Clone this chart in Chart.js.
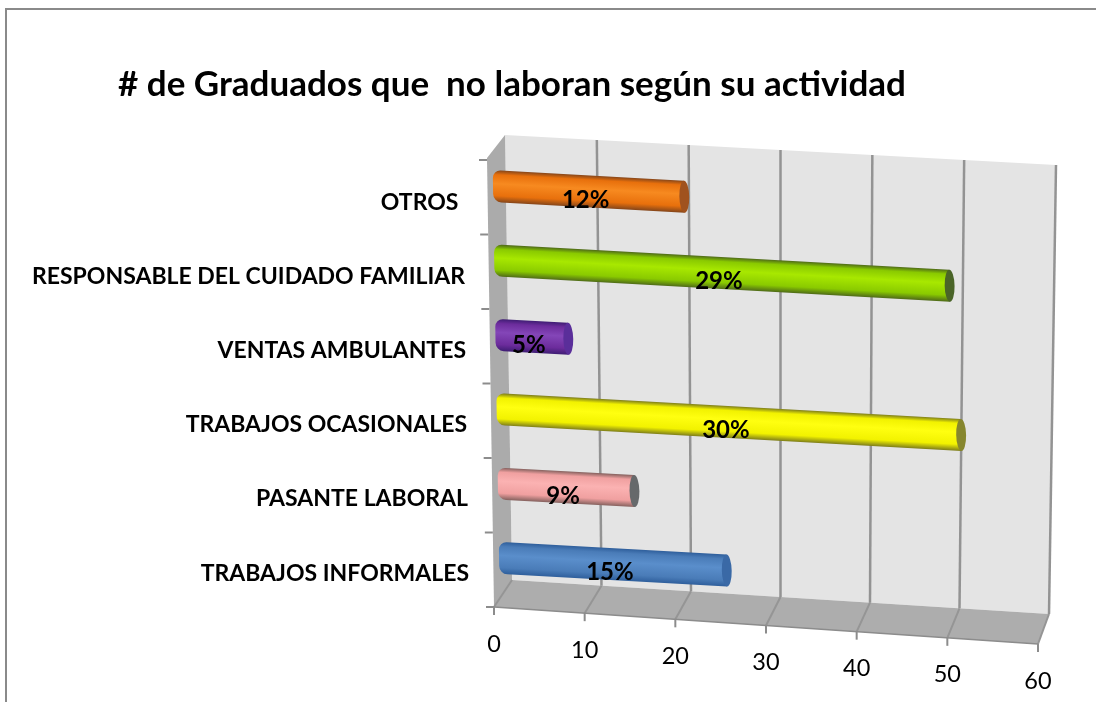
<!DOCTYPE html>
<html>
<head>
<meta charset="utf-8">
<title># de Graduados que no laboran según su actividad</title>
<script src="https://cdn.jsdelivr.net/npm/chart.js@4"></script>
<style>
    body { margin: 0; background: #fff; }
    #frame { position: absolute; left: 5px; top: 8px; right: 0; bottom: 0; border-top: 2px solid #8a8a8a; border-left: 2px solid #8a8a8a; }
    #chart { position: absolute; left: 0; top: 0; filter: blur(0.4px); }
</style>
</head>
<body>
<div id="frame"></div>
<canvas id="chart" width="1096" height="702"></canvas>
<script>
// Data, bottom category first
const categories = ['TRABAJOS INFORMALES', 'PASANTE LABORAL', 'TRABAJOS OCASIONALES', 'VENTAS AMBULANTES', 'RESPONSABLE DEL CUIDADO FAMILIAR', 'OTROS '];
const graduados = [25, 15, 51, 8, 50, 21];
const percentLabels = ['15%', '9%', '30%', '5%', '29%', '12%'];
const xTicks = [0, 10, 20, 30, 40, 50, 60];

// edge, body, highlight, end cap
const barColors = [
    ['#2f5f9c', '#4a7cb8', '#5a8ecb', '#3a69a6'],
    ['#86625f', '#f0a0a0', '#fbb2b2', '#66696b'],
    ['#7f7f1a', '#f2f200', '#ffff10', '#86862e'],
    ['#3f1d74', '#6c2c9c', '#8446b8', '#5a2e9a'],
    ['#4f6b18', '#8aca00', '#a8e800', '#4a6428'],
    ['#86461a', '#e8700c', '#f78a20', '#a0521e']
];

const FONT = 'Lato, sans-serif';

// Corners of the tilted box, in page pixels
const wall = { tl: [505, 135], tr: [1056, 165], br: [1049, 614], bl: [512, 580] };
const floorFront = { l: [494, 607], r: [1038, 644] };
const sideFront = { t: [487, 160], b: [494, 607] };
const sideTop = [487, 158];
// Shear that lays the flat bars on the tilted plane
const barTilt = [0.99, 0.055, 0.0162, 0.996, -9.74, -13.4];

function lerp(p, q, t) {
    return [p[0] + (q[0] - p[0]) * t, p[1] + (q[1] - p[1]) * t];
}

function tiltBar(x, y) {
    return [
        barTilt[0] * x + barTilt[2] * y + barTilt[4],
        barTilt[1] * x + barTilt[3] * y + barTilt[5]
    ];
}

function fillShape(ctx, pts, color) {
    ctx.beginPath();
    pts.forEach((p, i) => i ? ctx.lineTo(p[0], p[1]) : ctx.moveTo(p[0], p[1]));
    ctx.closePath();
    ctx.fillStyle = color;
    ctx.fill();
}

function strokeLine(ctx, p, q, color, width) {
    ctx.beginPath();
    ctx.moveTo(p[0], p[1]);
    ctx.lineTo(q[0], q[1]);
    ctx.strokeStyle = color;
    ctx.lineWidth = width;
    ctx.stroke();
}

function barGradient(context) {
    const chart = context.chart;
    const cols = barColors[context.dataIndex];
    if (!chart.chartArea) return cols[1];
    const y = chart.scales.y.getPixelForValue(context.dataIndex);
    const half = 16;
    const g = chart.ctx.createLinearGradient(0, y - half, 0, y + half);
    g.addColorStop(0, cols[0]);
    g.addColorStop(0.14, cols[1]);
    g.addColorStop(0.42, cols[2]);
    g.addColorStop(0.8, cols[1]);
    g.addColorStop(1, cols[0]);
    return g;
}

// Walls, grid and tick marks go under the bars, the bars get sheared
const box3d = {
    id: 'box3d',
    beforeDatasetsDraw(chart) {
        const ctx = chart.ctx;
        const x = chart.scales.x;
        const area = chart.chartArea;

        fillShape(ctx, [wall.tl, wall.tr, wall.br, wall.bl], '#e4e4e4');
        fillShape(ctx, [wall.tl, sideTop, floorFront.l, wall.bl], '#ababab');
        fillShape(ctx, [wall.bl, wall.br, floorFront.r, floorFront.l], '#adadad');

        xTicks.forEach(v => {
            const u = (x.getPixelForValue(v) - area.left) / area.width;
            const top = lerp(wall.tl, wall.tr, u);
            const bottom = lerp(wall.bl, wall.br, u);
            const front = lerp(floorFront.l, floorFront.r, u);
            if (v > 0) strokeLine(ctx, top, bottom, '#939393', 2.5);
            strokeLine(ctx, bottom, front, '#959595', 2);
            strokeLine(ctx, front, [front[0], front[1] + 8], '#8c8c8c', 2);
        });
        strokeLine(ctx, floorFront.l, floorFront.r, '#8c8c8c', 1.5);

        for (let i = 0; i <= categories.length; i++) {
            const p = lerp(sideFront.t, sideFront.b, i / categories.length);
            strokeLine(ctx, [p[0] - 8, p[1]], p, '#8c8c8c', 2);
        }

        ctx.save();
        ctx.transform(...barTilt);
    },
    afterDatasetsDraw(chart) {
        const ctx = chart.ctx;
        const bars = chart.getDatasetMeta(0).data;
        bars.forEach((bar, i) => {
            ctx.beginPath();
            ctx.ellipse(bar.x, bar.y, 5, bar.height / 2, 0, 0, Math.PI * 2);
            ctx.fillStyle = barColors[i][3];
            ctx.fill();
        });
        ctx.restore();

        // Flat text on top of the tilted drawing
        ctx.save();
        ctx.fillStyle = '#000';
        ctx.textBaseline = 'middle';

        ctx.textAlign = 'center';
        ctx.font = 'bold 24px ' + FONT;
        bars.forEach((bar, i) => {
            const p = tiltBar((bar.base + bar.x) / 2, bar.y);
            ctx.fillText(percentLabels[i], p[0] - 3, p[1] + 8.5);
        });

        ctx.textAlign = 'right';
        ctx.font = 'bold 23px ' + FONT;
        categories.forEach((label, i) => {
            const py = chart.scales.y.getPixelForValue(i) * 0.9935 + 31;
            ctx.fillText(label, 465 + 0.0135 * (py - 277), py);
        });

        ctx.textAlign = 'center';
        ctx.font = '23.5px ' + FONT;
        xTicks.forEach(v => {
            const u = (chart.scales.x.getPixelForValue(v) - chart.chartArea.left) / chart.chartArea.width;
            const front = lerp(floorFront.l, floorFront.r, u);
            ctx.fillText(String(v), front[0], front[1] + 37);
        });
        ctx.restore();
    }
};

new Chart(document.getElementById('chart'), {
    type: 'bar',
    data: {
        labels: categories,
        datasets: [{
            label: '# de Graduados',
            data: graduados,
            backgroundColor: barGradient,
            borderRadius: { topLeft: 8, bottomLeft: 8 },
            borderSkipped: false,
            categoryPercentage: 1,
            barPercentage: 0.43,
            clip: false
        }]
    },
    options: {
        indexAxis: 'y',
        responsive: false,
        animation: false,
        events: [],
        layout: { padding: { left: 118, right: 39, top: 0, bottom: 0 } },
        scales: {
            x: {
                min: 0,
                max: 60,
                ticks: { stepSize: 10, display: false },
                grid: { display: false },
                border: { display: false },
                afterFit(scale) { scale.height = 119; }
            },
            y: {
                reverse: true,
                ticks: { display: false },
                grid: { display: false },
                border: { display: false },
                afterFit(scale) { scale.width = 387; }
            }
        },
        plugins: {
            legend: { display: false },
            tooltip: { enabled: false },
            title: {
                display: true,
                text: '# de Graduados que  no laboran según su actividad',
                align: 'start',
                color: '#000',
                font: { family: FONT, size: 35, weight: 'bold' },
                padding: { top: 64, bottom: 29 }
            }
        }
    },
    plugins: [box3d]
});
</script>
</body>
</html>
